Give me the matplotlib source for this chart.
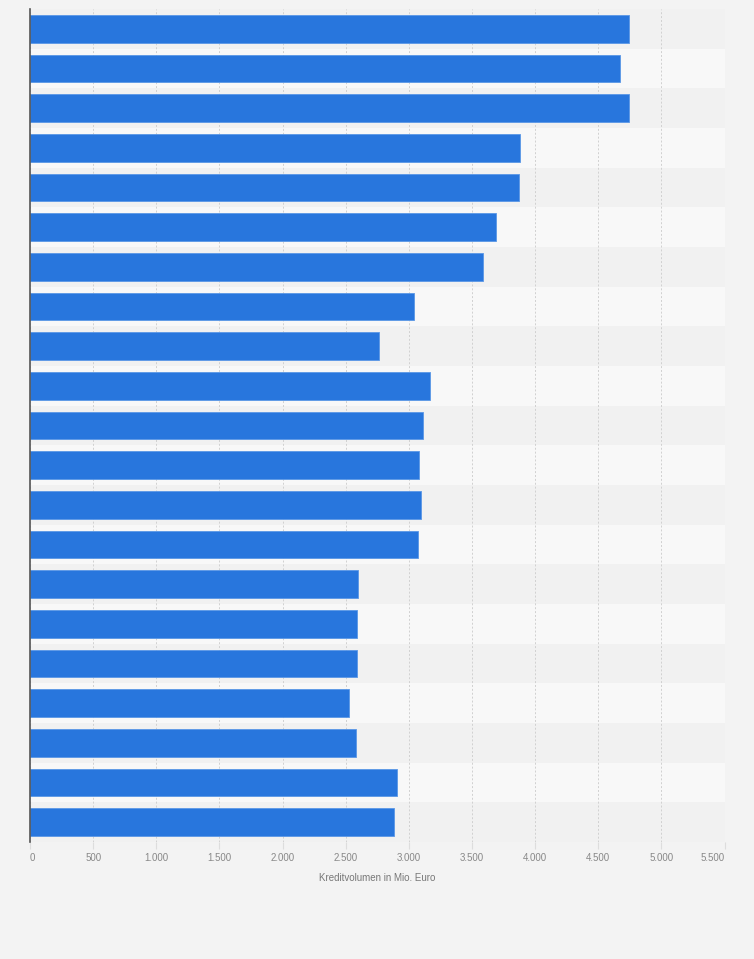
import matplotlib.pyplot as plt
import numpy as np

# Loan volume per bar, top to bottom (Mio. Euro).
values = [4742, 4672, 4742, 3882, 3874, 3692, 3589, 3041, 2760, 3168, 3113,
          3078, 3097, 3073, 2597, 2589, 2589, 2525, 2581, 2906, 2882]
xticks = [0, 500, 1000, 1500, 2000, 2500, 3000, 3500, 4000, 4500, 5000, 5500]
xtick_labels = ['0', '500', '1.000', '1.500', '2.000', '2.500', '3.000',
                '3.500', '4.000', '4.500', '5.000', '5.500']
x_label = 'Kreditvolumen in Mio. Euro'

plt.rcParams['font.family'] = ['Liberation Sans', 'DejaVu Sans']

fig = plt.figure(figsize=(7.54, 9.59), dpi=100, facecolor='#f3f3f3')
ax = fig.add_axes([0.0398, 0.122, 0.9212, 0.8686])  # type: plt.Axes
ax.set_facecolor('#f3f3f3')

n = len(values)
y = np.arange(n)

# Alternating row bands behind the bars.
for i in y:
    ax.axhspan(i - 0.5, i + 0.5, color='#f1f1f1' if i % 2 == 0 else '#f8f8f8',
               zorder=0, lw=0)

ax.barh(y, values, height=0.7, color='#2876dd', edgecolor='#5a97e6',
        linewidth=0.6, zorder=3)

ax.set_ylim(n - 0.5, -0.5)
ax.set_xlim(0, 5500)
ax.set_yticks([])
ax.set_xticks(xticks)
ax.set_xticklabels(xtick_labels, fontsize=7, color='#888888')
labels = ax.get_xticklabels()
labels[0].set_horizontalalignment('left')
labels[-1].set_horizontalalignment('right')
ax.tick_params(axis='x', length=5, color='#dddddd', pad=3)
ax.set_xlabel(x_label, fontsize=7, color='#777777', labelpad=7)

ax.grid(axis='x', color='#d0d0d0', linestyle=(0, (2, 2)), linewidth=0.7,
        zorder=1)
for side in ['top', 'right', 'bottom']:
    ax.spines[side].set_visible(False)
ax.spines['left'].set_color('#555555')
ax.spines['left'].set_linewidth(1.2)
ax.spines['left'].set_zorder(4)

fig.savefig('out.png', dpi=100, facecolor=fig.get_facecolor())
